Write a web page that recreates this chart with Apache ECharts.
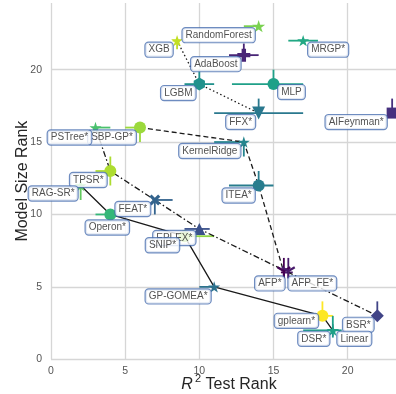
<!DOCTYPE html>
<html>
<head>
<meta charset="utf-8">
<script src="https://cdn.jsdelivr.net/npm/echarts@6/dist/echarts.min.js"></script>
<style>
  html, body { margin: 0; padding: 0; background: #fff; }
  #chart { width: 396px; height: 394px; }
</style>
</head>
<body>
<div id="chart"></div>
<script>
// Median ranks per method: R^2 test rank vs. model size rank, with rank ranges.
const methods = ['RandomForest', 'XGB', 'AdaBoost', 'MRGP*', 'LGBM', 'MLP', 'FFX*', 'AIFeynman*',
  'KernelRidge', 'SBP-GP*', 'PSTree*', 'TPSR*', 'RAG-SR*', 'FEAT*', 'Operon*', 'EPLEX*', 'SNIP*',
  'GP-GOMEA*', 'ITEA*', 'AFP*', 'AFP_FE*', 'gplearn*', 'BSR*', 'DSR*', 'Linear'];
const r2Rank   = [14, 8.5, 13, 17, 10, 15, 14, 23, 13, 6, 3, 4, 2, 7, 4, 10, 9, 11, 14, 15.7, 16, 18.3, 22, 19, 19];
const sizeRank = [23, 22, 21, 22, 19, 19, 17, 17, 15, 16, 16, 13, 12, 11, 10, 9, 8.5, 5, 12, 6, 6, 3, 3, 2, 2];
const r2Lo     = [13, 8.2, 12, 16, 9, 12.2, 11, 23, 11, 5, 3, 3, 2, 7, 3, 9, 9, 10, 12, 15.5, 15.7, 18.3, 22, 19, 17];
const r2Hi     = [14, 8.7, 14, 18, 11, 17, 17, 23, 13, 6, 4, 4, 2, 8.2, 4, 10.7, 11, 11, 15, 16, 16.3, 19, 22, 19.6, 19];
const sizeLo   = [23, 21.4, 20.6, 22, 19, 19, 17, 17, 14, 15, 16, 12, 11, 10, 10, 9, 8.5, 5, 12, 6, 6, 3, 3, 1.5, 2];
const sizeHi   = [23, 22, 21.8, 22, 20, 20, 18, 18, 15, 16, 16, 14, 12, 11, 10, 9, 8.5, 5, 13, 7, 7, 4, 4, 2, 3];

// Non-dominated fronts, in drawing order
const frontDotted  = ['XGB', 'LGBM', 'FFX*'];
const frontDashed  = ['SBP-GP*', 'KernelRidge', 'ITEA*', 'AFP*'];
const frontDashDot = ['PSTree*', 'TPSR*', 'FEAT*', 'EPLEX*', 'AFP_FE*', 'BSR*'];
const frontSolid   = ['RAG-SR*', 'Operon*', 'SNIP*', 'GP-GOMEA*', 'gplearn*', 'DSR*'];

const xTicks = [0, 5, 10, 15, 20];
const yTicks = [0, 5, 10, 15, 20];

// Marker shapes
const STAR = 'path://M100,0 L122.3,69.3 L195.1,69.1 L136.1,111.7 L158.8,180.9 L100,138 L41.2,180.9 L63.9,111.7 L4.9,69.1 L77.7,69.3 Z';
const PLUS = 'path://M66,0 L134,0 L134,66 L200,66 L200,134 L134,134 L134,200 L66,200 L66,134 L0,134 L0,66 L66,66 Z';
const THINPLUS = 'path://M88,0 L112,0 L112,88 L200,88 L200,112 L112,112 L112,200 L88,200 L88,112 L0,112 L0,88 L88,88 Z';
const XMARK = 'path://M20,0 L50,30 L80,0 L100,20 L70,50 L100,80 L80,100 L50,70 L20,100 L0,80 L30,50 L0,20 Z';
const HEX = 'path://M100,0 L186.6,50 L186.6,150 L100,200 L13.4,150 L13.4,50 Z';
const TRIDOWN = 'path://M100,82.7 L179.1,37 L194.1,63 L115,108.7 L115,200 L85,200 L85,108.7 L5.9,63 L20.9,37 Z';

// Per-method appearance
const look = {
  'RandomForest': { color: '#7ad151', symbol: STAR, size: 13 },
  'XGB':          { color: '#c2df23', symbol: STAR, size: 12 },
  'AdaBoost':     { color: '#482576', symbol: PLUS, size: 13 },
  'MRGP*':        { color: '#22a884', symbol: STAR, size: 12 },
  'LGBM':         { color: '#21918c', symbol: HEX, size: 13 },
  'MLP':          { color: '#1fa088', symbol: 'circle', size: 12 },
  'FFX*':         { color: '#2a788e', symbol: 'triangle', size: 13, rotate: 180 },
  'AIFeynman*':   { color: '#46307e', symbol: 'rect', size: 11 },
  'KernelRidge':  { color: '#25858e', symbol: STAR, size: 12 },
  'SBP-GP*':      { color: '#9bd93c', symbol: 'circle', size: 12 },
  'PSTree*':      { color: '#4ac16d', symbol: STAR, size: 12 },
  'TPSR*':        { color: '#addc30', symbol: 'circle', size: 12 },
  'RAG-SR*':      { color: '#63cb5f', symbol: STAR, size: 12 },
  'FEAT*':        { color: '#33638d', symbol: XMARK, size: 11 },
  'Operon*':      { color: '#35b779', symbol: 'circle', size: 12 },
  'EPLEX*':       { color: '#3b518b', symbol: 'triangle', size: 12 },
  'SNIP*':        { color: '#8fd744', symbol: 'circle', size: 12 },
  'GP-GOMEA*':    { color: '#2c728e', symbol: STAR, size: 12 },
  'ITEA*':        { color: '#287d8e', symbol: 'circle', size: 12 },
  'AFP*':         { color: '#440154', symbol: TRIDOWN, size: 14 },
  'AFP_FE*':      { color: '#481a6c', symbol: TRIDOWN, size: 14 },
  'gplearn*':     { color: '#fde725', symbol: 'circle', size: 12 },
  'BSR*':         { color: '#414487', symbol: 'diamond', size: 13 },
  'DSR*':         { color: '#1f988b', symbol: THINPLUS, size: 12 },
  'Linear':       { color: '#1fa187', symbol: STAR, size: 12 }
};

// Text box nudges in pixels (label centre relative to the marker)
const nudge = {
  'RandomForest': [-40, 9], 'XGB': [-18, 9], 'AdaBoost': [-28, 9], 'MRGP*': [25, 9],
  'LGBM': [-21, 9], 'MLP': [18, 8], 'FFX*': [-18, 9], 'AIFeynman*': [-36, 9],
  'KernelRidge': [-34, 9], 'SBP-GP*': [-28, 10], 'PSTree*': [-26, 10], 'TPSR*': [-22, 9],
  'RAG-SR*': [-27.5, 8], 'FEAT*': [-22, 9], 'Operon*': [-3, 13], 'EPLEX*': [-25, 9],
  'SNIP*': [-22, 9], 'GP-GOMEA*': [-36, 9.5], 'ITEA*': [-20, 10], 'AFP*': [-14, 11],
  'AFP_FE*': [24, 11], 'gplearn*': [-26, 5], 'BSR*': [-19, 9], 'DSR*': [-19, 8.5],
  'Linear': [21.5, 8.5]
};

const FONT = '"Liberation Sans", Arial, sans-serif';
const idx = name => methods.indexOf(name);
const frontData = names => names.map(n => [r2Rank[idx(n)], sizeRank[idx(n)]]);

function frontSeries(names, dash) {
  return {
    type: 'line', data: frontData(names), symbol: 'none', silent: true, z: 2,
    lineStyle: { color: '#1a1a1a', width: 1.3, type: dash }
  };
}

const chart = echarts.init(document.getElementById('chart'), null, { renderer: 'canvas' });

const option = {
  animation: false,
  backgroundColor: '#ffffff',
  grid: { left: 51, right: 0, top: 3, bottom: 34.7, containLabel: false, outerBoundsMode: 'none' },
  xAxis: {
    type: 'value', min: 0, max: 23.26, interval: 5,
    name: '{r|R}{s|2}{t| Test Rank}', nameLocation: 'middle', nameGap: 14, nameMoveOverlap: false,
    nameTextStyle: {
      padding: [0, 0, 0, 11],
      rich: {
        r: { fontFamily: FONT, fontSize: 16, fontStyle: 'italic', color: '#262626', lineHeight: 22 },
        s: { fontFamily: FONT, fontSize: 11, color: '#262626', lineHeight: 10, verticalAlign: 'top', padding: [0, 0, 0, 2] },
        t: { fontFamily: FONT, fontSize: 16, color: '#262626', lineHeight: 22 }
      }
    },
    axisLine: { show: false }, axisTick: { show: false },
    axisLabel: {
      showMaxLabel: false, margin: 6, color: '#555', fontFamily: FONT, fontSize: 10.5,
      formatter: v => (xTicks.includes(v) ? String(v) : '')
    },
    splitLine: { show: true, showMaxLine: false, lineStyle: { color: '#d6d6d6', width: 1.3 } }
  },
  yAxis: {
    type: 'value', min: 0, max: 24.6, interval: 5,
    name: 'Model Size Rank', nameLocation: 'middle', nameGap: 20, nameMoveOverlap: false,
    nameTextStyle: { fontFamily: FONT, fontSize: 16, color: '#262626' },
    axisLine: { show: false }, axisTick: { show: false },
    axisLabel: {
      showMaxLabel: false, margin: 9, color: '#555', fontFamily: FONT, fontSize: 10.5,
      formatter: v => (yTicks.includes(v) ? String(v) : '')
    },
    splitLine: { show: true, showMaxLine: false, lineStyle: { color: '#d6d6d6', width: 1.3 } }
  },
  series: [
    {
      // rank ranges as cross-shaped error bars
      type: 'custom', silent: true, z: 1,
      data: methods.map((m, i) => [r2Rank[i], sizeRank[i], r2Lo[i], r2Hi[i], sizeLo[i], sizeHi[i], i]),
      renderItem: (params, api) => {
        const i = api.value(6);
        const c = look[methods[i]].color;
        const x = api.value(0), y = api.value(1);
        const h0 = api.coord([api.value(2), y]), h1 = api.coord([api.value(3), y]);
        const v0 = api.coord([x, api.value(4)]), v1 = api.coord([x, api.value(5)]);
        return {
          type: 'group',
          children: [
            { type: 'line', shape: { x1: h0[0], y1: h0[1], x2: h1[0], y2: h1[1] }, style: { stroke: c, lineWidth: 1.8 } },
            { type: 'line', shape: { x1: v0[0], y1: v0[1], x2: v1[0], y2: v1[1] }, style: { stroke: c, lineWidth: 1.8 } }
          ]
        };
      }
    },
    frontSeries(frontDotted, [1.5, 2.5]),
    frontSeries(frontDashed, [5, 3]),
    frontSeries(frontDashDot, [6, 2.5, 1.5, 2.5]),
    frontSeries(frontSolid, 'solid'),
    {
      // method markers
      type: 'scatter', z: 3, silent: true,
      data: methods.map((m, i) => ({
        value: [r2Rank[i], sizeRank[i]],
        symbol: look[m].symbol,
        symbolSize: look[m].size,
        symbolRotate: look[m].rotate || 0,
        symbolKeepAspect: true,
        itemStyle: { color: look[m].color, opacity: 1 }
      }))
    },
    {
      // method names in boxed labels
      type: 'scatter', z: 10, silent: true, symbolSize: 1,
      itemStyle: { color: 'rgba(0,0,0,0)' },
      data: methods.map((m, i) => ({
        value: [r2Rank[i], sizeRank[i]],
        name: m,
        label: {
          show: true, position: 'inside', offset: nudge[m],
          formatter: m, align: 'center', verticalAlign: 'middle',
          fontFamily: FONT, fontSize: 10, color: '#262626', lineHeight: 11,
          backgroundColor: '#ffffff', borderColor: '#4a6fb0', borderWidth: 1.2,
          borderRadius: 3, padding: [1.5, 3]
        }
      }))
    }
  ]
};

chart.setOption(option);
</script>
</body>
</html>
